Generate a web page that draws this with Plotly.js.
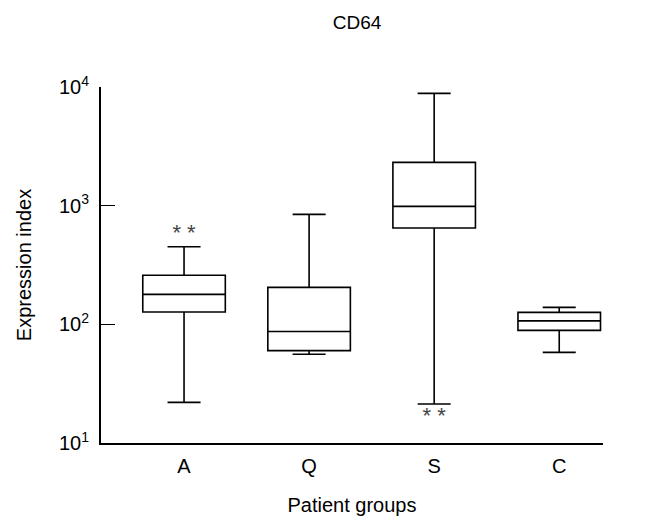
<!DOCTYPE html>
<html>
<head>
<meta charset="utf-8">
<script src="https://cdn.plot.ly/plotly-3.0.1.min.js"></script>
<style>
  html, body { margin: 0; padding: 0; background: #fff; }
  #chart { width: 670px; height: 527px; }
</style>
</head>
<body>
<div id="chart"></div>
<script>
var groups = ['A', 'Q', 'S', 'C'];
var lowerWhisker = [22, 56, 21.3, 58];
var q1 = [127, 60, 648, 89];
var median = [179, 87, 986, 107];
var q3 = [259, 205, 2316, 126];
var upperWhisker = [451, 845, 8830, 139];

// significance marks
var markGroups = ['A', 'S'];
var markY = [570, 16.4];
var markText = ['* *', '* *'];

var yTickVals = [10, 100, 1000, 10000];
var yTickText = ['10<sup>1</sup>', '10<sup>2</sup>', '10<sup>3</sup>', '10<sup>4</sup>'];

window.onload = function () {
    var traces = [
        {
            type: 'box',
            x: groups,
            q1: q1,
            median: median,
            q3: q3,
            lowerfence: lowerWhisker,
            upperfence: upperWhisker,
            fillcolor: 'white',
            line: { color: 'black', width: 1.6 },
            width: 0.66,
            whiskerwidth: 0.4,
            boxpoints: false,
            hoverinfo: 'skip',
            showlegend: false
        },
        {
            type: 'scatter',
            mode: 'text',
            x: markGroups,
            y: markY,
            text: markText,
            textposition: 'middle center',
            textfont: { family: 'Liberation Sans, Arial, sans-serif', size: 22, color: '#444' },
            hoverinfo: 'skip',
            showlegend: false
        }
    ];

    var layout = {
        width: 670,
        height: 527,
        margin: { l: 101, r: 67, t: 87, b: 84 },
        paper_bgcolor: 'white',
        plot_bgcolor: 'white',
        font: { family: 'Liberation Sans, Arial, sans-serif', color: 'black' },
        title: {
            text: 'CD64',
            x: 0.533,
            xanchor: 'center',
            y: 0.957,
            yanchor: 'middle',
            font: { size: 19 }
        },
        xaxis: {
            type: 'category',
            range: [-0.664, 3.35],
            showline: true,
            linecolor: 'black',
            linewidth: 2,
            ticks: '',
            showgrid: false,
            zeroline: false,
            tickfont: { size: 20 },
            ticklabelstandoff: 4,
            title: { text: 'Patient groups', font: { size: 20 }, standoff: 22 }
        },
        yaxis: {
            type: 'log',
            range: [1, 4],
            showline: true,
            linecolor: 'black',
            linewidth: 2,
            ticks: 'inside',
            ticklen: 14,
            tickwidth: 1.5,
            tickcolor: 'black',
            tickvals: yTickVals,
            ticktext: yTickText,
            showgrid: false,
            zeroline: false,
            tickfont: { size: 20 },
            ticklabelstandoff: 6,
            title: { text: 'Expression index', font: { size: 20 }, standoff: 22 }
        }
    };

    Plotly.newPlot('chart', traces, layout, { staticPlot: true, displayModeBar: false });
};
</script>
</body>
</html>
